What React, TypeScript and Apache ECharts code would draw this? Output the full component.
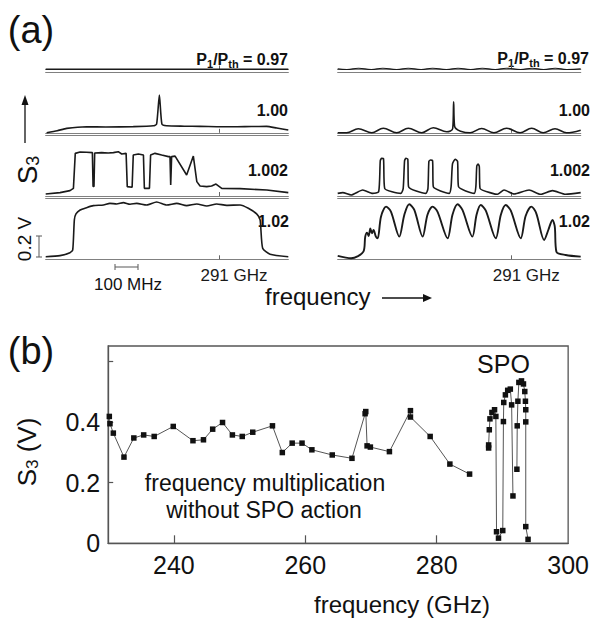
import React, { useEffect, useRef } from 'react';
import * as echarts from 'echarts';

const FONT = '"Liberation Sans", Arial, Helvetica, sans-serif';

// ---------- Panel (a): spectra, x = MHz from window start (291 GHz at 750 MHz), y = S3 (V)
const spanMHz = [0, 1050];
const markerMHz = [750];
const rowLabels = ['P1/Pth = 0.97', '1.00', '1.002', '1.02'];

const leftRow1 = [[0, 0.003], [350, 0.003], [700, 0.003], [1050, 0.003]];
const leftRow2 = [[4, 0], [50, 0.02], [91, 0.042], [177, 0.057], [260, 0.055], [379, 0.059], [466, 0.067], [480, 0.083], [492, 0.36], [503, 0.083], [523, 0.067], [600, 0.063], [668, 0.061], [740, 0.058], [812, 0.057], [890, 0.06], [956, 0.061], [1000, 0.045], [1050, 0.026]];
const leftRow3 = [[0, 0.019], [62, 0.032], [105, 0.051], [120, 0.073], [128, 0.406], [149, 0.419], [177, 0.416], [202, 0.413], [205, 0.09], [209, 0.09], [212, 0.41], [242, 0.413], [271, 0.41], [293, 0.413], [314, 0.422], [329, 0.4], [348, 0.406], [353, 0.089], [374, 0.083], [379, 0.39], [401, 0.4], [423, 0.39], [427, 0.073], [449, 0.073], [454, 0.39], [473, 0.406], [502, 0.39], [531, 0.375], [538, 0.375], [541, 0.105], [545, 0.375], [560, 0.38], [610, 0.2], [639, 0.38], [654, 0.137], [668, 0.095], [697, 0.089], [718, 0.095], [737, 0.114], [762, 0.073], [841, 0.07], [957, 0.057], [1050, 0.032]];
const leftRow4 = [[0, 0.025], [62, 0.035], [105, 0.063], [117, 0.089], [124, 0.375], [131, 0.432], [149, 0.47], [177, 0.492], [206, 0.511], [250, 0.517], [278, 0.533], [307, 0.527], [336, 0.54], [365, 0.524], [394, 0.533], [437, 0.517], [480, 0.546], [524, 0.517], [567, 0.533], [610, 0.511], [654, 0.527], [697, 0.508], [740, 0.527], [783, 0.514], [841, 0.517], [877, 0.486], [913, 0.432], [928, 0.375], [939, 0.105], [971, 0.048], [1050, 0.025]];

const rightRow1 = [[0, 0.006], [40, 0], [90, 0.012], [145, 0], [195, 0.012], [255, 0], [305, 0.012], [360, 0], [410, 0.012], [470, 0], [520, 0.012], [575, 0], [625, 0.012], [680, 0], [730, 0.012], [790, 0], [840, 0.012], [890, 0], [940, 0.012], [990, 0], [1050, 0.006]];
const rightRow2 = [[0, 0], [39, 0], [89, 0.038], [147, 0], [197, 0.044], [255, 0], [305, 0.044], [363, 0], [413, 0.048], [471, 0.01], [497, 0.041], [501, 0.295], [505, 0.063], [572, 0], [622, 0.041], [675, 0], [730, 0.044], [788, 0], [838, 0.044], [888, 0], [939, 0.038], [989, 0], [1050, 0.025]];
const rightRow3 = [[0, 0.025], [22, 0.032], [58, 0.01], [108, 0.057], [151, 0.025], [177, 0.041], [184, 0.337], [190, 0.359], [198, 0.356], [203, 0.073], [273, 0.025], [283, 0.073], [289, 0.337], [295, 0.359], [303, 0.35], [306, 0.089], [381, 0.025], [390, 0.073], [394, 0.33], [401, 0.343], [410, 0.337], [413, 0.089], [482, 0.025], [490, 0.089], [496, 0.305], [508, 0.35], [518, 0.33], [522, 0.089], [590, 0.025], [597, 0.089], [601, 0.286], [607, 0.305], [612, 0.279], [615, 0.073], [669, 0.025], [690, 0.016], [719, 0.057], [762, 0.019], [827, 0.057], [877, 0.016], [928, 0.051], [985, 0.016], [1050, 0.032]];
const rightRow4 = [[0, 0.032], [58, 0.01], [111, 0.073], [119, 0.216], [127, 0.254], [134, 0.222], [141, 0.295], [148, 0.248], [155, 0.279], [165, 0.216], [173, 0.2], [187, 0.406], [209, 0.502], [230, 0.454], [266, 0.216], [288, 0.425], [309, 0.524], [331, 0.47], [367, 0.216], [388, 0.425], [410, 0.502], [431, 0.454], [475, 0.2], [496, 0.425], [518, 0.524], [539, 0.47], [582, 0.216], [600, 0.425], [618, 0.517], [640, 0.463], [683, 0.2], [705, 0.425], [726, 0.517], [748, 0.463], [791, 0.2], [812, 0.413], [837, 0.502], [858, 0.438], [892, 0.184], [910, 0.279], [928, 0.375], [938, 0.311], [945, 0.073], [985, 0.041], [1050, 0.025]];

// ---------- Panel (b): S3 (V) vs frequency (GHz)
const freqRange = [230, 300];
const s3Range = [0, 0.65];
const freqTicks = [240, 260, 280];
const freqLabels = [240, 260, 280, 300];
const s3Ticks = [0.2, 0.4, 0.6];
const s3Labels = [0, 0.2, 0.4];

const freqMult = [[230.17, 0.418], [230.27, 0.394], [230.78, 0.363], [232.4, 0.284], [233.9, 0.347], [235.4, 0.357], [237.0, 0.352], [239.9, 0.385], [242.9, 0.338], [244.5, 0.341], [245.9, 0.376], [247.4, 0.398], [248.9, 0.357], [250.4, 0.352], [252.0, 0.366], [255.0, 0.387], [256.5, 0.299], [258.0, 0.33], [259.5, 0.33], [261.0, 0.308], [264.1, 0.291], [267.1, 0.28], [269.1, 0.427], [269.2, 0.434], [269.4, 0.321], [269.9, 0.317], [272.8, 0.302], [276.0, 0.437], [276.0, 0.416], [279.0, 0.352], [282.0, 0.261], [285.0, 0.228]];
const spoLow = [[287.9, 0.314], [287.9, 0.324], [288.0, 0.374], [288.1, 0.41], [288.4, 0.431], [288.8, 0.44], [289.0, 0.418], [289.1, 0.038], [289.4, 0.017], [290.05, 0.042], [290.15, 0.401], [290.2, 0.464], [290.45, 0.489], [290.8, 0.504], [291.2, 0.508], [291.4, 0.456], [291.6, 0.156]];
const spoHigh = [[292.2, 0.244], [292.25, 0.387], [292.35, 0.468], [292.5, 0.53], [292.9, 0.535], [293.2, 0.525], [293.4, 0.5], [293.5, 0.468], [293.55, 0.44], [293.55, 0.4], [293.55, 0.055], [293.9, 0.013]];

const rowBottoms = [69.5, 132.8, 196, 259.3];
const panelLefts = [45.7, 337.7];
const panelWidths = [242.6, 243];
const traces = [
  [leftRow1, leftRow2, leftRow3, leftRow4],
  [rightRow1, rightRow2, rightRow3, rightRow4],
];
const smoothing = [
  [false, 0.2, false, 0.2],
  [0.5, 0.35, 0.2, 0.3],
];

function txt(x: number, y: number, text: string, size: number, opts: any = {}) {
  return {
    type: 'text',
    x,
    y,
    rotation: opts.rotation || 0,
    silent: true,
    style: {
      text,
      fill: '#111',
      font: `${opts.weight || 'normal'} ${size}px ${FONT}`,
      align: opts.align || 'center',
      verticalAlign: 'middle',
      textAlign: opts.align || 'center',
      textVerticalAlign: 'middle',
      rich: opts.rich,
    },
  };
}

export default function App() {
  const ref = useRef<HTMLDivElement>(null);
  useEffect(() => {
    document.body.style.margin = '0';
    if (!ref.current) return;
    const chart = echarts.init(ref.current, null, { renderer: 'svg' });

    const grid: any[] = [];
    const xAxis: any[] = [];
    const yAxis: any[] = [];
    const series: any[] = [];
    const axisColor = '#808080';

    for (let p = 0; p < 2; p++) {
      for (let r = 0; r < 4; r++) {
        const g = grid.length;
        grid.push({ left: panelLefts[p], width: panelWidths[p], top: rowBottoms[r] - 63, height: 63 });
        const xi = xAxis.length;
        xAxis.push({
          gridIndex: g, type: 'value', position: 'bottom', min: spanMHz[0], max: spanMHz[1],
          axisLine: { show: true, lineStyle: { color: axisColor, width: 1.2 } },
          axisTick: { show: true, inside: true, length: 4, customValues: markerMHz, lineStyle: { color: '#666', width: 1 } },
          axisLabel: r === 3
            ? { show: true, customValues: markerMHz, formatter: () => '291 GHz', fontSize: 17, color: '#1a1a1a', fontFamily: FONT, margin: 8, padding: [0, 0, 0, 30] }
            : { show: false },
          splitLine: { show: false },
        });
        if (r < 3) {
          xAxis.push({
            gridIndex: g, type: 'value', position: 'bottom', offset: 2.4, min: spanMHz[0], max: spanMHz[1],
            axisLine: { show: true, lineStyle: { color: axisColor, width: 1.2 } },
            axisTick: { show: false }, axisLabel: { show: false }, splitLine: { show: false },
          });
        }
        yAxis.push({ gridIndex: g, type: 'value', min: 0, max: 0.6, show: false });
        series.push({
          type: 'line', xAxisIndex: xi, yAxisIndex: g, data: traces[p][r], showSymbol: false, silent: true,
          smooth: smoothing[p][r],
          lineStyle: { color: '#1a1a1a', width: p === 1 && r === 3 ? 1.9 : p === 1 && r === 0 ? 1.2 : 1.6 },
          clip: false,
        });
      }
    }

    // Panel (b)
    const gb = grid.length;
    grid.push({ left: 108.2, top: 346, width: 460.8, height: 197.3, show: true, borderColor: '#555', borderWidth: 1.3, backgroundColor: 'transparent' });
    const xb = xAxis.length;
    xAxis.push({
      gridIndex: gb, type: 'value', min: freqRange[0], max: freqRange[1],
      axisLine: { show: true, lineStyle: { color: '#555', width: 1.3 } },
      axisTick: { show: true, inside: true, length: 8, customValues: freqTicks, lineStyle: { color: '#555', width: 1.2 } },
      axisLabel: { show: true, customValues: freqLabels, fontSize: 25, color: '#111', fontFamily: FONT, margin: 9 },
      splitLine: { show: false },
    });
    const yb = yAxis.length;
    yAxis.push({
      gridIndex: gb, type: 'value', min: s3Range[0], max: s3Range[1],
      axisLine: { show: true, lineStyle: { color: '#555', width: 1.3 } },
      axisTick: { show: true, inside: true, length: 5, customValues: s3Ticks, lineStyle: { color: '#555', width: 1.2 } },
      axisLabel: { show: true, customValues: s3Labels, formatter: (v: number) => (v === 0 ? '0' : v.toFixed(1)), fontSize: 25, color: '#111', fontFamily: FONT, margin: 8 },
      splitLine: { show: false },
    });
    const pointSeries = (data: number[][]) => ({
      type: 'line', xAxisIndex: xb, yAxisIndex: yb, data, silent: true,
      symbol: 'rect', symbolSize: 5.5, showSymbol: true,
      itemStyle: { color: '#111' },
      lineStyle: { color: '#555', width: 1 },
    });
    series.push(pointSeries(freqMult), pointSeries(spoLow), pointSeries(spoHigh));

    const grey = { stroke: '#666', lineWidth: 1.1 };
    const subRich = (size: number) => ({
      b: { fontSize: size, fontWeight: 'bold', fontFamily: FONT, lineHeight: 20, color: '#111' },
      s: { fontSize: 11, fontWeight: 'bold', fontFamily: FONT, lineHeight: 10, verticalAlign: 'bottom', color: '#111' },
    });
    const graphic: any[] = [
      txt(31, 30, '(a)', 38),
      txt(31, 351, '(b)', 38),
      // row labels
      txt(288, 59, '{b|P}{s|1}{b|/P}{s|th}{b| = 0.97}', 16, { align: 'right', rich: subRich(16) }),
      txt(589, 58, '{b|P}{s|1}{b|/P}{s|th}{b| = 0.97}', 16, { align: 'right', rich: subRich(16) }),
      txt(288, 110, rowLabels[1], 16, { align: 'right', weight: 'bold' }),
      txt(590, 110, rowLabels[1], 16, { align: 'right', weight: 'bold' }),
      txt(288, 170, rowLabels[2], 16, { align: 'right', weight: 'bold' }),
      txt(590, 170, rowLabels[2], 16, { align: 'right', weight: 'bold' }),
      txt(289, 221, rowLabels[3], 16, { align: 'right', weight: 'bold' }),
      txt(590, 221, rowLabels[3], 16, { align: 'right', weight: 'bold' }),
      // S3 label + arrow
      txt(27, 170, '{s|S}{sub|3}', 28, {
        rotation: Math.PI / 2,
        rich: {
          s: { fontSize: 28, fontFamily: FONT, lineHeight: 30, color: '#111' },
          sub: { fontSize: 18, fontFamily: FONT, lineHeight: 14, verticalAlign: 'bottom', color: '#111' },
        },
      }),
      { type: 'line', silent: true, shape: { x1: 25, y1: 143, x2: 25, y2: 103 }, style: { stroke: '#111', lineWidth: 1.3 } },
      { type: 'polygon', silent: true, shape: { points: [[21.5, 105], [25, 95], [28.5, 105]] }, style: { fill: '#111' } },
      // 0.2 V scale bar
      txt(24, 239, '0.2 V', 19, { rotation: Math.PI / 2 }),
      { type: 'line', silent: true, shape: { x1: 39, y1: 236, x2: 39, y2: 257 }, style: grey },
      { type: 'line', silent: true, shape: { x1: 36, y1: 236, x2: 42, y2: 236 }, style: grey },
      { type: 'line', silent: true, shape: { x1: 36, y1: 257, x2: 42, y2: 257 }, style: grey },
      // 100 MHz scale bar
      { type: 'line', silent: true, shape: { x1: 115, y1: 267, x2: 138, y2: 267 }, style: grey },
      { type: 'line', silent: true, shape: { x1: 115, y1: 264, x2: 115, y2: 270 }, style: grey },
      { type: 'line', silent: true, shape: { x1: 138, y1: 264, x2: 138, y2: 270 }, style: grey },
      txt(128, 284, '100 MHz', 17),
      // frequency arrow
      txt(265, 296, 'frequency', 24, { align: 'left' }),
      { type: 'line', silent: true, shape: { x1: 382, y1: 298, x2: 424, y2: 298 }, style: { stroke: '#111', lineWidth: 1.3 } },
      { type: 'polygon', silent: true, shape: { points: [[423, 294], [432, 298], [423, 302]] }, style: { fill: '#111' } },
      // panel b annotations
      txt(503.5, 364, 'SPO', 25),
      txt(265, 483, 'frequency multiplication', 23),
      txt(264, 510, 'without SPO action', 23),
      txt(402, 604, 'frequency (GHz)', 24),
      txt(27, 452, '{s|S}{sub|3}{s| (V)}', 26, {
        rotation: Math.PI / 2,
        rich: {
          s: { fontSize: 26, fontFamily: FONT, lineHeight: 28, color: '#111' },
          sub: { fontSize: 17, fontFamily: FONT, lineHeight: 13, verticalAlign: 'bottom', color: '#111' },
        },
      }),
    ];

    chart.setOption({
      animation: false,
      backgroundColor: '#ffffff',
      grid,
      xAxis,
      yAxis,
      series,
      graphic,
    });
    return () => chart.dispose();
  }, []);
  return <div ref={ref} style={{ width: 592, height: 621, position: 'absolute', left: 0, top: 0 }} />;
}
